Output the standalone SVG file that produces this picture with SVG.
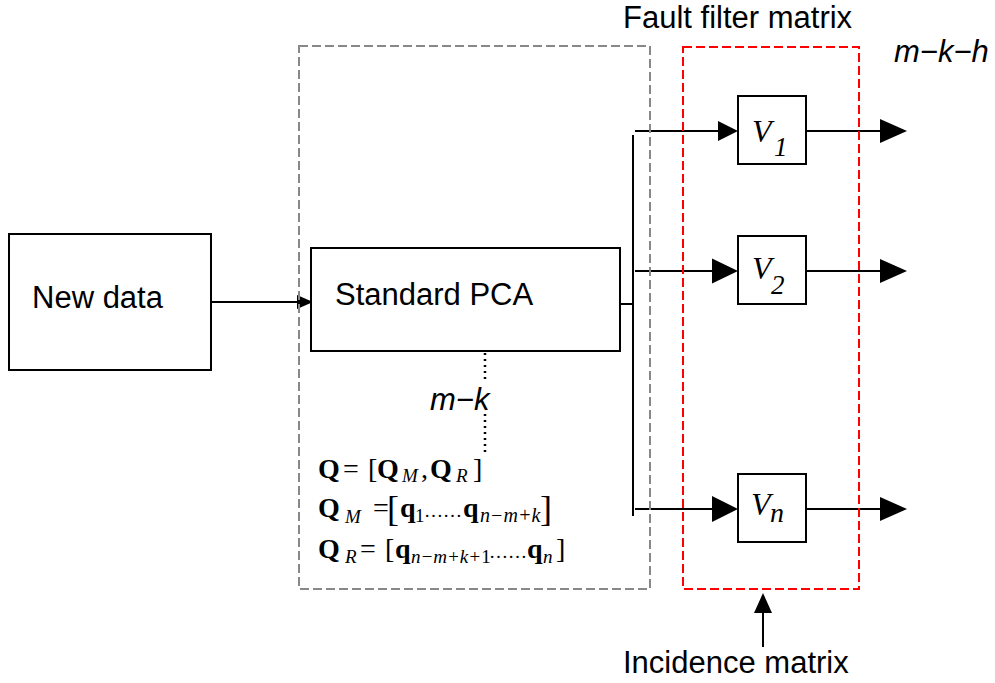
<svg xmlns="http://www.w3.org/2000/svg" width="995" height="683" viewBox="0 0 995 683">
  <style>
    .box { fill: #ffffff; stroke: #000000; stroke-width: 2; }
    .wire { fill: none; stroke: #000000; stroke-width: 2; }
    .head { fill: #000000; stroke: none; }
    .sans { font-family: "Liberation Sans", Arial, sans-serif; font-size: 31px; fill: #000000; }
    .ital { font-style: italic; }
    .serif { font-family: "Liberation Serif", "Times New Roman", serif; fill: #000000; }
    .big { font-size: 28px; }
    .sub { font-size: 19px; }
    .b { font-weight: bold; }
    .i { font-style: italic; }
    .frame-gray { fill: none; stroke: #888888; stroke-width: 2; stroke-dasharray: 9 4; }
    .frame-red { fill: none; stroke: #ff0000; stroke-width: 2; stroke-dasharray: 9 4; }
    .dots { fill: none; stroke: #000000; stroke-width: 2.5; stroke-dasharray: 2 4; }
  </style>

  <rect width="995" height="683" fill="#ffffff"/>

  <!-- connectors -->
  <g id="connectors">
    <!-- new data -> PCA -->
    <line class="wire" x1="211" y1="302" x2="300" y2="302"/>
    <polygon class="head" points="297,295 313,302 297,309"/>
    <!-- PCA -> bus -->
    <line class="wire" x1="620" y1="304" x2="633" y2="304"/>
    <line class="wire" x1="633" y1="135" x2="633" y2="516"/>
    <!-- bus -> filters -->
    <line class="wire" x1="635" y1="131" x2="720" y2="131"/>
    <polygon class="head" points="718,121 738,131 718,141"/>
    <line class="wire" x1="635" y1="271" x2="714" y2="271"/>
    <polygon class="head" points="712,258.5 738,271 712,283.5"/>
    <line class="wire" x1="635" y1="509" x2="714" y2="509"/>
    <polygon class="head" points="712,496 738,509 712,522"/>
    <!-- filter outputs -->
    <line class="wire" x1="806" y1="131" x2="882" y2="131"/>
    <polygon class="head" points="880,119 907,131 880,143"/>
    <line class="wire" x1="806" y1="271" x2="882" y2="271"/>
    <polygon class="head" points="880,259 907,271 880,283"/>
    <line class="wire" x1="806" y1="509" x2="882" y2="509"/>
    <polygon class="head" points="880,497 907,509 880,521"/>
    <!-- incidence matrix input -->
    <line class="wire" x1="763" y1="647" x2="763" y2="611"/>
    <polygon class="head" points="754,613 763,593 772,613"/>
    <!-- dotted link from PCA to m-k -->
    <line class="dots" x1="485" y1="317" x2="485" y2="382"/>
    <line class="dots" x1="485" y1="414" x2="485" y2="454"/>
  </g>

  <!-- New data -->
  <g id="new-data">
    <rect class="box" x="9" y="234" width="202" height="136"/>
    <text class="sans" x="32" y="308">New data</text>
  </g>

  <!-- Standard PCA -->
  <g id="standard-pca">
    <rect class="box" x="311" y="248" width="309" height="103"/>
    <text class="sans" x="335" y="305">Standard PCA</text>
  </g>

  <!-- filters -->
  <g id="filter-v1">
    <rect class="box" x="738" y="96" width="68" height="68"/>
    <text class="serif ital" x="752" y="142" font-size="32">V</text>
    <text class="serif ital" x="774" y="156" font-size="27">1</text>
  </g>
  <g id="filter-v2">
    <rect class="box" x="738" y="236" width="68" height="68"/>
    <text class="serif ital" x="752" y="279" font-size="32">V</text>
    <text class="serif ital" x="771" y="294" font-size="27">2</text>
  </g>
  <g id="filter-vn">
    <rect class="box" x="738" y="474" width="68" height="68"/>
    <text class="serif ital" x="751" y="515" font-size="32">V</text>
    <text class="serif ital" x="770" y="522" font-size="28">n</text>
  </g>

  <!-- labels -->
  <g id="labels">
    <text class="sans" x="623" y="28" font-size="30">Fault filter matrix</text>
    <text class="sans ital" x="894" y="62">m−k−h</text>
    <text class="sans ital" x="430" y="410">m−k</text>
    <text class="sans" x="623" y="673">Incidence matrix</text>
  </g>

  <!-- partition formulas -->
  <g id="formulas" class="serif">
    <!-- Q = [Q_M , Q_R] -->
    <text class="big b" x="318" y="478">Q</text>
    <text class="big" x="343" y="478">=</text>
    <text class="big" x="368" y="478">[</text>
    <text class="big b" x="377" y="478">Q</text>
    <text class="sub i" x="402" y="482">M</text>
    <text class="big" x="421" y="478">,</text>
    <text class="big b" x="430" y="478">Q</text>
    <text class="sub i" x="456" y="482">R</text>
    <text class="big" x="473" y="478">]</text>

    <!-- Q_M = [q_1 ...... q_{n-m+k}] -->
    <text class="big b" x="318" y="517">Q</text>
    <text class="sub i" x="345" y="523">M</text>
    <text class="big" x="373" y="517">=</text>
    <text x="387" y="521" font-size="36">[</text>
    <text class="big b" x="400" y="517">q</text>
    <text class="sub" x="415" y="522">1</text>
    <text class="sub" x="424" y="517">……</text>
    <text class="big b" x="463" y="517">q</text>
    <text class="i" x="480" y="522" font-size="20">n−m+k</text>
    <text x="540" y="521" font-size="36">]</text>

    <!-- Q_R = [q_{n-m+k+1} ...... q_n] -->
    <text class="big b" x="318" y="558">Q</text>
    <text class="sub i" x="345" y="563">R</text>
    <text class="big" x="360" y="558">=</text>
    <text class="big" x="385" y="558">[</text>
    <text class="big b" x="395" y="558">q</text>
    <text class="sub i" x="411" y="563">n−m+k+<tspan font-style="normal">1</tspan></text>
    <text class="sub" x="489" y="558">……</text>
    <text class="big b" x="527" y="558">q</text>
    <text class="sub i" x="543" y="563">n</text>
    <text class="big" x="556" y="558">]</text>
  </g>

  <!-- dashed frames -->
  <g id="pca-frame">
    <rect class="frame-gray" x="299" y="46" width="351" height="543"/>
  </g>
  <g id="fault-filter-frame">
    <rect class="frame-red" x="683" y="47" width="176" height="542"/>
  </g>
</svg>
